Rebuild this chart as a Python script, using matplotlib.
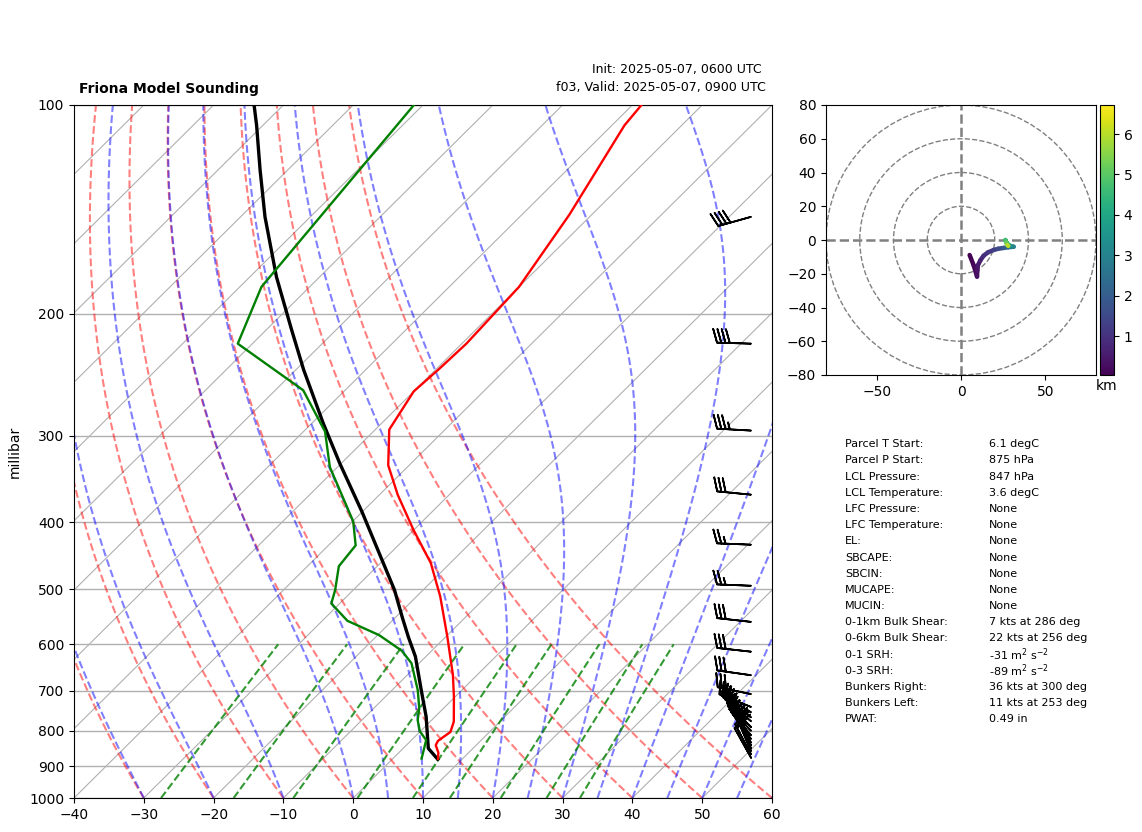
import numpy as np
import matplotlib
matplotlib.use("Agg")
import matplotlib.pyplot as plt
from matplotlib.collections import LineCollection
from matplotlib.patches import Circle
from matplotlib.transforms import Affine2D

# ---- sounding
temp_p = [878, 860, 839, 827, 803, 776, 714, 664, 585, 512, 458, 410, 365, 331, 294, 259, 240, 221, 183, 144, 107, 100]
temp_t = [6.5, 5.65, 4.2, 3.9, 4.4, 3.4, -0.2, -3.5, -9.8, -16.6, -22.8, -30.1, -37.4, -43.0, -48.0, -50.0, -49.6,
          -49.35, -50.0, -53.2, -58.2, -58.7]
dew_p = [877, 825, 801, 772, 742, 699, 639, 613, 582, 555, 524, 501, 463, 432, 399, 333, 296, 258, 221, 183, 149, 100]
dew_t = [4.1, 2.1, -0.1, -2.0, -3.5, -6.3, -11.1, -14.3, -19.8, -26.4, -31.2, -32.6, -35.5, -36.1, -39.9, -51.1,
         -56.9, -66.0, -82.1, -86.9, -88.4, -91.3]
parcel_p = [879, 848, 763, 699, 625, 586, 550, 501, 386, 329, 288, 241, 211, 177, 145, 124, 107, 100]
parcel_t = [6.5, 3.6, -1.3, -5.8, -11.5, -15.3, -18.9, -24.1, -40.1, -50.2, -58.35, -68.9, -76.4, -86.2, -96.5, -104.0,
            -110.9, -114.2]

# ---- wind barbs (knots)
barb_p = [145, 221, 295, 365, 431, 494, 557, 615, 665, 708, 739, 752, 765, 775, 790, 800, 812, 822, 832, 840, 848,
          856, 865, 875]
barb_u = [38.5, 40, 35, 29.9, 25, 25, 29.7, 29.8, 29.7, 29.4, 25, 23, 21, 19, 17, 16, 15, 14, 12, 11, 10, 9, 9, 5]
barb_v = [10.8, -1.2, -2, -2.9, -1, -1, -3.3, -3.3, -4.2, -6, -10, -13, -15, -16, -17, -17, -18, -19, -19, -20, -21,
          -21, -17, -9]

# ---- hodograph (knots, km)
hodo_u = [5.1, 7.5, 9.5, 9.7, 10, 11.5, 13.4, 16, 19.4, 22, 25.3, 28, 31.2, 29.5, 28.3, 27, 26.3, 26.8, 27.5, 28]
hodo_v = [-8.9, -15, -21.7, -18, -15, -12, -9.3, -7.3, -5.9, -5.2, -4.7, -4.3, -4, -3.6, -3, -1.5, 0, -1.5, -3, -3.5]
hodo_h = [0.035, 0.15, 0.3, 0.4, 0.5, 0.7, 0.9, 1.1, 1.3, 1.6, 2.0, 2.5, 3.0, 3.4, 3.8, 4.3, 4.7, 5.2, 6.0, 6.72]

# ---- background lines
isotherms = np.arange(-140, 61, 10)
dry_start = np.arange(-30, 61, 10)
moist_start = [-30, -20, -10, 0, 5, 10, 15, 20, 25, 30, 35, 40, 45, 50, 55, 60]
mixing = [0.0004, 0.001, 0.002, 0.004, 0.007, 0.01, 0.016, 0.024, 0.032]
p_ticks = [100, 200, 300, 400, 500, 600, 700, 800, 900, 1000]
t_ticks = np.arange(-40, 61, 10)

# ---- parameter table
table_left = ["Parcel T Start:", "Parcel P Start:", "LCL Pressure:", "LCL Temperature:", "LFC Pressure:",
              "LFC Temperature:", "EL:", "SBCAPE:", "SBCIN:", "MUCAPE:", "MUCIN:", "0-1km Bulk Shear:",
              "0-6km Bulk Shear:", "0-1 SRH:", "0-3 SRH:", "Bunkers Right:", "Bunkers Left:", "PWAT:"]
table_right = ["6.1 degC", "875 hPa", "847 hPa", "3.6 degC", "None", "None", "None", "None", "None", "None", "None",
               "7 kts at 286 deg", "22 kts at 256 deg", r"-31 m$^2$ s$^{-2}$", r"-89 m$^2$ s$^{-2}$",
               "36 kts at 300 deg", "11 kts at 253 deg", "0.49 in"]

W, H = 1142, 832
fig = plt.figure(figsize=(W / 100, H / 100), dpi=100)


def rect(x0, y0, x1, y1):
    return [x0 / W, 1 - y1 / H, (x1 - x0) / W, (y1 - y0) / H]


ax = fig.add_axes(rect(74, 105, 772, 798))
ax.set_yscale("log")
ax.set_ylim(1000, 100)
ax.set_xlim(-40, 60)
ax.set_yticks(p_ticks)
ax.set_yticklabels([str(v) for v in p_ticks])
ax.minorticks_off()
ax.set_xticks(t_ticks)
ax.tick_params(labelsize=10)
ax.yaxis.grid(True, color="#b0b0b0", lw=1.0)
ax.set_axisbelow(True)
ax.set_ylabel("millibar", fontsize=10)
ax.yaxis.set_label_coords(-0.0745, 0.5)

# skew: one decade of pressure moves a point one axes width to the right
skew = ax.transScale + ax.transLimits + Affine2D(np.array([[1, 1, 0], [0, 1, 0], [0, 0, 1.0]])) + ax.transAxes

for t in isotherms:
    ax.plot([t, t], [1000, 100], color="#b0b0b0", lw=0.8, transform=skew, zorder=1)

plev = np.geomspace(1000, 100, 120)
for t0 in dry_start:
    ax.plot((t0 + 273.15) * (plev / 1000) ** 0.2857 - 273.15, plev, color="r", alpha=0.5, lw=1.5, ls="--",
            transform=skew, zorder=2)


def moist_rate(p, tk):
    es = 6.112 * np.exp(17.67 * (tk - 273.15) / (tk - 29.65))
    rs = 0.62198 * es / (p - es)
    return (287.05 * tk + 2.501e6 * rs) / (1005.0 + 2.501e6 ** 2 * rs * 0.62198 / (287.05 * tk ** 2)) / p


for t0 in moist_start:
    tk = t0 + 273.15
    temps = [tk]
    for a, b in zip(plev[:-1], plev[1:]):
        h = b - a
        k1 = moist_rate(a, tk)
        k2 = moist_rate(a + h / 2, tk + h * k1 / 2)
        k3 = moist_rate(a + h / 2, tk + h * k2 / 2)
        k4 = moist_rate(b, tk + h * k3)
        tk = tk + h * (k1 + 2 * k2 + 2 * k3 + k4) / 6
        temps.append(tk)
    ax.plot(np.array(temps) - 273.15, plev, color="b", alpha=0.5, lw=1.5, ls="--", transform=skew, zorder=2)

pmix = np.geomspace(1000, 600, 30)
for w in mixing:
    e = pmix * w / (0.62198 + w)
    lg = np.log(e / 6.112)
    ax.plot(243.5 * lg / (17.67 - lg), pmix, color="g", alpha=0.8, lw=1.5, ls="--", transform=skew, zorder=2)

ax.plot(temp_t, temp_p, color="r", lw=1.7, transform=skew, zorder=4)
ax.plot(dew_t, dew_p, color="g", lw=1.7, transform=skew, zorder=4)
ax.plot(parcel_t, parcel_p, color="k", lw=2.4, transform=skew, zorder=3)

ax.barbs(np.full(len(barb_p), 0.97), barb_p, barb_u, barb_v, transform=ax.get_yaxis_transform(),
         length=7, linewidth=1.25, color="k", zorder=5, clip_on=False)

ax.set_title("Friona Model Sounding", loc="left", x=5 / 698, fontsize=10, fontweight="bold", pad=8.5)
ax.text(688 / 698, 1 + 35 / 693, "Init: 2025-05-07, 0600 UTC", transform=ax.transAxes, ha="right", va="center",
        fontsize=9)
ax.text(692 / 698, 1 + 17 / 693, "f03, Valid: 2025-05-07, 0900 UTC", transform=ax.transAxes, ha="right", va="center",
        fontsize=9.1)

# ---- hodograph
hax = fig.add_axes(rect(826, 105, 1096, 375))
hax.set_xlim(-80, 80)
hax.set_ylim(-80, 80)
hax.set_xticks([-50, 0, 50])
hax.set_yticks(np.arange(-80, 81, 20))
hax.tick_params(labelsize=10)
for r in [20, 40, 60, 80]:
    hax.add_patch(Circle((0, 0), r, fill=False, ec="gray", ls="--", lw=1, zorder=1))
hax.axhline(0, color="gray", ls="--", lw=1.8, zorder=1)
hax.axvline(0, color="gray", ls="--", lw=1.8, zorder=1)
pts = np.column_stack([hodo_u, hodo_v])
segs = np.stack([pts[:-1], pts[1:]], axis=1)
lc = LineCollection(segs, cmap="viridis", linewidths=3.2, capstyle="round", zorder=3)
lc.set_array(np.array(hodo_h[:-1]))
lc.set_clim(min(hodo_h), max(hodo_h))
hax.add_collection(lc)

cax = fig.add_axes(rect(1100, 105, 1114, 375))
cb = fig.colorbar(lc, cax=cax)
cb.set_ticks([1, 2, 3, 4, 5, 6])
cb.ax.tick_params(labelsize=10)
cax.set_xlabel("km", fontsize=10, labelpad=3)

# ---- parameter table
for i, (a, b) in enumerate(zip(table_left, table_right)):
    y = 444.3 + i * 16.18
    fig.text(845 / W, 1 - y / H, a, fontsize=8, va="center", ha="left")
    fig.text(989 / W, 1 - y / H, b, fontsize=8, va="center", ha="left")

fig.savefig("out.png", dpi=100)
